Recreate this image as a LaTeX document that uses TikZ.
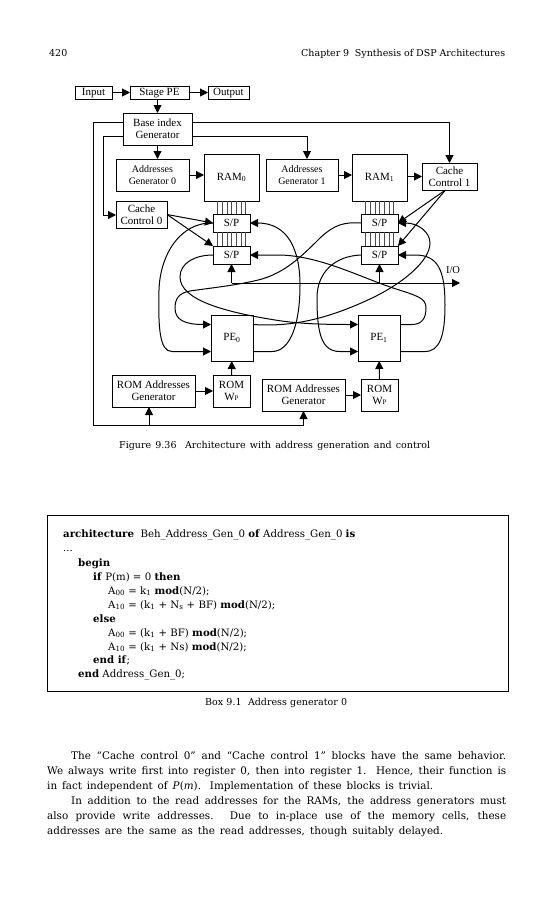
\documentclass[tikz,border=0pt]{standalone}
\usepackage{fontspec}
\usepackage{tikz}
\usetikzlibrary{arrows.meta}
\setmainfont{DejaVu Serif}
\newfontfamily\figfont{Liberation Serif}
\newcommand{\fillto}[2]{\makebox[#1pt][s]{#2}}
\tikzset{
  blockbox/.style = {
    shape = rectangle,
    draw,
    line width = 1pt,
    inner sep = 0pt,
    outer sep = 0pt,
    align = center,
    font = \figfont\fontsize{11}{12}\selectfont},
  addrbox/.style = {
    blockbox,
    font = \figfont\fontsize{10}{12}\selectfont},
  rowbox/.style = {
    blockbox,
    align = none,
    text height = 8pt,
    text depth = 2pt,
    minimum height = 13pt},
  wire/.style = {line width = 1pt},
  sig/.style = {wire, -{Triangle[length=8pt,width=8pt]}},
  bus/.style = {line width = 0.4pt, black!70},
  pagetext/.style = {
    anchor = base west,
    inner sep = 0pt,
    font = \fontsize{10.2}{12}\selectfont},
  bodytext/.style = {
    pagetext,
    font = \fontsize{10.4}{12}\selectfont},
  captext/.style = {
    pagetext,
    font = \fontsize{9.5}{12}\selectfont},
  framebox/.style = {
    shape = rectangle,
    draw,
    line width = 0.6pt,
    inner sep = 0pt}}
\begin{document}
\begin{tikzpicture}[x=1pt,y=-1pt]
          \useasboundingbox (0,0) rectangle (552,900);
          %% page head
          \node[captext] (pageno) at (49,56) {420};
          \node[captext] (pagehead) at (301,56) {\fillto{204}{Chapter 9\ \ Synthesis of DSP Architectures}};
          %% top row
          \node[rowbox,minimum width=37pt] (input) at (93.5,92.5) {Input};
          \node[rowbox,minimum width=59pt] (stage) at (159.5,92.5) {Stage PE};
          \node[rowbox,minimum width=41pt] (output) at (228.5,92.5) {Output};
          \node[blockbox,minimum width=69pt,minimum height=32pt] (base) at (157.5,129) {Base index\\Generator};
          %% memories
          \node[addrbox,minimum width=73pt,minimum height=32pt] (agzero) at (152.5,175) {Addresses\\Generator 0};
          \node[blockbox,minimum width=55pt,minimum height=47pt] (ramzero) at (231.5,177.5) {RAM\textsubscript{0}};
          \node[addrbox,minimum width=72pt,minimum height=32pt] (agone) at (302,175) {Addresses\\Generator 1};
          \node[blockbox,minimum width=55pt,minimum height=47pt] (ramone) at (379.5,177.5) {RAM\textsubscript{1}};
          \node[blockbox,minimum width=55pt,minimum height=27pt] (ccone) at (449.5,176.5) {Cache\\Control 1};
          \node[blockbox,minimum width=51pt,minimum height=27pt] (cczero) at (141.5,214.5) {Cache\\Control 0};
          %% serial/parallel registers
          \node[blockbox,minimum width=37pt,minimum height=18pt] (spa) at (231.5,223) {S/P};
          \node[blockbox,minimum width=37pt,minimum height=18pt] (spb) at (231.5,255) {S/P};
          \node[blockbox,minimum width=37pt,minimum height=18pt] (spc) at (379.5,223) {S/P};
          \node[blockbox,minimum width=37pt,minimum height=18pt] (spd) at (379.5,255) {S/P};
          %% processing elements and roms
          \node[blockbox,minimum width=42pt,minimum height=46pt] (pezero) at (232,338) {PE\textsubscript{0}};
          \node[blockbox,minimum width=42pt,minimum height=46pt] (peone) at (379,338) {PE\textsubscript{1}};
          \node[blockbox,minimum width=83pt,minimum height=32pt] (romazero) at (153.5,391) {ROM Addresses\\Generator};
          \node[blockbox,minimum width=37pt,minimum height=32pt] (romzero) at (231.5,391) {ROM\\W\raisebox{.5pt}{\scriptsize P}};
          \node[blockbox,minimum width=83pt,minimum height=32pt] (romaone) at (303.5,395) {ROM Addresses\\Generator};
          \node[blockbox,minimum width=37pt,minimum height=32pt] (romone) at (379.5,395) {ROM\\W\raisebox{.5pt}{\scriptsize P}};
          \node[inner sep=0pt,font=\figfont\fontsize{10.5}{12}\selectfont] (iolabel) at (453,270) {I/O};
          %% ports
          \coordinate (baseupw) at ([yshift=6.5pt]base.west);
          \coordinate (baselow) at ([yshift=-7pt]base.west);
          \coordinate (baseupe) at ([yshift=6.5pt]base.east);
          \coordinate (baseloe) at ([yshift=-7pt]base.east);
          \coordinate (pezup) at ([yshift=13.5pt]pezero.west);
          \coordinate (pezlow) at ([yshift=-13.5pt]pezero.west);
          \coordinate (pezupe) at ([yshift=13.5pt]pezero.east);
          \coordinate (pezloe) at ([yshift=-13.5pt]pezero.east);
          \coordinate (peoup) at ([yshift=13.5pt]peone.west);
          \coordinate (peolow) at ([yshift=-13.5pt]peone.west);
          \coordinate (peoupe) at ([yshift=13.5pt]peone.east);
          \coordinate (peoloe) at ([yshift=-13.5pt]peone.east);
          \coordinate (ccotap) at ([xshift=-4pt]ccone.south);
          \coordinate (leftrail) at (93,425);
          \coordinate (railleft) at (103,215);
          \coordinate (iohead) at (460,283);
          %% straight connectors
          \draw[sig] (input) -- (stage);
          \draw[sig] (stage) -- (output);
          \draw[sig] (base.north |- stage.south) -- (base.north);
          \draw[sig] (base.south) -- (base.south |- agzero.north);
          \draw[sig] (agzero.east) -- (agzero.east -| ramzero.west);
          \draw[sig] (agone.east) -- (agone.east -| ramone.west);
          \draw[sig] (ramone.east |- ccone.west) -- (ccone.west);
          \draw[sig] (romazero) -- (romzero);
          \draw[sig] (romaone) -- (romone);
          \draw[sig] (romzero) -- (pezero);
          \draw[sig] (romone) -- (peone);
          \draw[sig] (cczero.east) -- (spa.west);
          \draw[sig] (cczero.east) -- (spb.north west);
          \draw[sig] (ccotap) -- (spc.east);
          \draw[sig] (ccotap) -- (spd.north east);
          %% base index rails
          \draw[wire] (baseupw) -| (leftrail);
          \draw[sig] (leftrail) -| (romaone.south);
          \draw[sig] ([xshift=-4.5pt]romazero.south |- leftrail) -- ([xshift=-4.5pt]romazero.south);
          \draw[sig] (baselow) -| (railleft) -- (railleft -| cczero.west);
          \draw[sig] (baseupe) -| (ccone.north);
          \draw[sig] (baseloe) -| ([xshift=5pt]agone.north);
          %% i/o bus
          \draw[sig] (spb.south |- iohead) -- (iohead);
          \draw[sig] (spb.south |- iohead) -- (spb.south);
          \draw[sig] (spd.south |- iohead) -- (spd.south);
          %% data buses
          \foreach \dx in {-14,-9.3,-4.7,0,4.7,9.3,14}{
            \draw[bus] ([xshift=\dx pt]ramzero.south) -- ([xshift=\dx pt]spa.north);
            \draw[bus] ([xshift=\dx pt]spa.south) -- ([xshift=\dx pt]spb.north);
            \draw[bus] ([xshift=\dx pt]ramone.south) -- ([xshift=\dx pt]spc.north);
            \draw[bus] ([xshift=\dx pt]spc.south) -- ([xshift=\dx pt]spd.north);
          }
          %% curved connectors
          \draw[sig] (spa.west) .. controls (180,222) and (160,255) .. (159,290)
            .. controls (158,330) and (160,351.5) .. (172,351.5) -- (pezlow);
          \draw[sig] (spb.west) .. controls (195,255) and (180,263) .. (180,277)
            .. controls (180,300) and (225,312) .. (275,320)
            .. controls (300,324) and (325,324.5) .. (peoup);
          \draw[sig] (pezupe) .. controls (290,327) and (325,320) .. (370,299)
            .. controls (400,285) and (430,262) .. (430,243)
            .. controls (430,232) and (418,223) .. (spc.east);
          \draw[sig] (spc.west) .. controls (345,222) and (335,224) .. (320,238)
            .. controls (300,258) and (285,272) .. (262,279)
            .. controls (240,285) and (210,288) .. (190,291)
            .. controls (178,293) and (175,300) .. (175,308)
            .. controls (175,320) and (185,324.5) .. (pezup);
          \draw[sig] (pezloe) -- (272,351.5) .. controls (290,351.5) and (300,325) .. (300,285)
            .. controls (300,250) and (288,223) .. (spa.east);
          \draw[sig] (peoupe) -- (412,324.5) .. controls (422,324.5) and (426,318) .. (426,308)
            .. controls (426,298) and (418,296) .. (393,288)
            .. controls (360,277) and (320,256) .. (280,255) -- (spb.east);
          \draw[sig] (spd.west) .. controls (335,256) and (317,272) .. (317,298)
            .. controls (317,335) and (322,351.5) .. (340,351.5) -- (peolow);
          \draw[sig] (peoloe) -- (425,351.5) .. controls (440,351.5) and (445,335) .. (445,305)
            .. controls (445,270) and (438,255) .. (415,255) -- (spd.east);
          \node[captext] (figcaption) at (119,448) {\fillto{311}{Figure 9.36\ \ Architecture with address generation and control}};
          %% code box
          \node[framebox,minimum width=461pt,minimum height=176pt] (codebox) at (277.5,603) {};
          \node[pagetext] (codea) at (63,537) {\textbf{architecture}\ \ Beh\_Address\_Gen\_0 \textbf{of} Address\_Gen\_0 \textbf{is}};
          \node[pagetext] (codeb) at (63,551) {...};
          \node[pagetext] (codec) at (78,566) {\textbf{begin}};
          \node[pagetext] (coded) at (93,580) {\textbf{if} P(m) = 0 \textbf{then}};
          \node[pagetext] (codee) at (108,594) {A\textsubscript{00} = k\textsubscript{1} \textbf{mod}(N/2);};
          \node[pagetext] (codef) at (108,608) {A\textsubscript{10} = (k\textsubscript{1} + N\textsubscript{s} + BF) \textbf{mod}(N/2);};
          \node[pagetext] (codeg) at (93,622) {\textbf{else}};
          \node[pagetext] (codeh) at (108,636) {A\textsubscript{00} = (k\textsubscript{1} + BF) \textbf{mod}(N/2);};
          \node[pagetext] (codei) at (108,650) {A\textsubscript{10} = (k\textsubscript{1} + Ns) \textbf{mod}(N/2);};
          \node[pagetext] (codej) at (93,663) {\textbf{end if};};
          \node[pagetext] (codek) at (78,677) {\textbf{end} Address\_Gen\_0;};
          \node[captext] (boxcaption) at (205,705) {\fillto{142}{Box 9.1\ \ Address generator 0}};
          %% body text
          \node[bodytext] (parala) at (71,759) {\fillto{435}{The “Cache control 0” and “Cache control 1” blocks have the same behavior.}};
          \node[bodytext] (paralb) at (47,774) {\fillto{459}{We always write first into register 0, then into register 1. Hence, their function is}};
          \node[bodytext] (paralc) at (47,789) {\fillto{386}{in fact independent of \textit{P}(\textit{m}). Implementation of these blocks is trivial.}};
          \node[bodytext] (parald) at (71,804) {\fillto{435}{In addition to the read addresses for the RAMs, the address generators must}};
          \node[bodytext] (parale) at (47,819) {\fillto{459}{also provide write addresses. Due to in-place use of the memory cells, these}};
          \node[bodytext] (paralf) at (47,834) {\fillto{396}{addresses are the same as the read addresses, though suitably delayed.}};
        \end{tikzpicture}
\end{document}
